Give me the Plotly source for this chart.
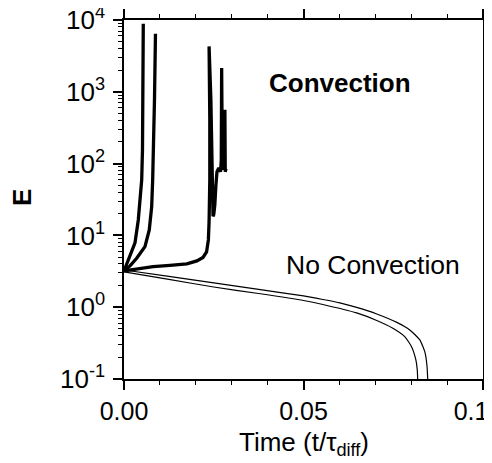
import plotly.graph_objects as go

# Convection runs (time in t/tau_diff, E)
conv1_t = [0.0, 0.00083, 0.00167, 0.00306, 0.00398, 0.00465, 0.00493, 0.00515, 0.00529, 0.00537]
conv1_E = [3.2, 4.14, 5.35, 7.87, 16.4, 34.7, 59.5, 156, 774, 8880]

conv2_t = [0.0, 0.00167, 0.00353, 0.00584, 0.00704, 0.00771, 0.00799, 0.00821, 0.00849, 0.00877]
conv2_E = [3.2, 3.76, 4.81, 6.98, 11.9, 25.2, 59.5, 156, 774, 6440]

conv3_t = [0.0, 0.00445, 0.0081, 0.0128, 0.0175, 0.0203, 0.0220, 0.0230, 0.0235, 0.0237, 0.0239,
           0.0239, 0.0239, 0.0237,
           0.0242, 0.0245, 0.0246, 0.0248, 0.0250, 0.0253, 0.0256, 0.0259, 0.0264, 0.0269, 0.0271,
           0.0272, 0.0273, 0.0274, 0.0278, 0.0281, 0.0282, 0.0284]
conv3_E = [3.2, 3.47, 3.67, 3.82, 4.01, 4.42, 4.94, 5.89, 8.66, 15.4, 31.3,
           59.5, 407, 4285,
           774, 59.5, 24, 18.5, 19.5, 26.6, 50, 77, 87, 77, 113,
           2140, 407, 103, 82, 560, 77, 85]

# No-convection runs
noconv1_t = [0.0, 0.0125, 0.0250, 0.0375, 0.0500, 0.0554, 0.0601, 0.0648, 0.0704, 0.0760, 0.0796, 0.0824, 0.0838, 0.0844, 0.0846]
noconv1_E = [3.30, 2.69, 2.18, 1.77, 1.435, 1.28, 1.15, 0.993, 0.805, 0.614, 0.482, 0.350, 0.238, 0.152, 0.1]

noconv2_t = [0.0, 0.0125, 0.0250, 0.0375, 0.0500, 0.0554, 0.0648, 0.0704, 0.0749, 0.0782, 0.0801, 0.0813, 0.0817, 0.0818]
noconv2_E = [3.10, 2.44, 1.91, 1.55, 1.24, 1.09, 0.832, 0.653, 0.509, 0.389, 0.282, 0.184, 0.133, 0.1]

x_tickvals = [0.0, 0.05, 0.1]
x_ticktext = ["0.00", "0.05", "0.1\u2007\u2009\u2009"]
y_tickvals = [0.1, 1, 10, 100, 1000, 10000]
y_ticktext = ["10<sup>-1</sup>", "10<sup>0</sup>", "10<sup>1</sup>", "10<sup>2</sup>", "10<sup>3</sup>", "10<sup>4</sup>"]
y_minor_mult = [2, 3, 4, 5, 6, 7, 8, 9]
y_minor_vals = [m * d for d in y_tickvals[:-1] for m in y_minor_mult]

FONT = "Liberation Sans, Arial, Helvetica, sans-serif"

fig = go.Figure()
for t, e in [(conv1_t, conv1_E), (conv2_t, conv2_E), (conv3_t, conv3_E)]:
    fig.add_trace(go.Scatter(x=t, y=e, mode="lines", line=dict(color="black", width=3.3),
                             showlegend=False, hoverinfo="skip"))
for t, e in [(noconv1_t, noconv1_E), (noconv2_t, noconv2_E)]:
    fig.add_trace(go.Scatter(x=t, y=e, mode="lines", line=dict(color="black", width=1.2, shape="spline", smoothing=0.5),
                             showlegend=False, hoverinfo="skip"))

axis_common = dict(showline=True, linecolor="black", linewidth=1.5, mirror="ticks",
                   ticks="outside", ticklen=9, tickwidth=1.5, tickcolor="black",
                   showgrid=False, zeroline=False, automargin=False, ticklabeloverflow="allow")

fig.update_xaxes(range=[0, 0.1], tickmode="array", tickvals=x_tickvals, ticktext=x_ticktext,
                 tickfont=dict(family=FONT, size=25, color="black"),
                 minor=dict(dtick=0.01, ticks="outside", ticklen=4, tickwidth=1.2, tickcolor="black", showgrid=False),
                 **axis_common)
fig.update_yaxes(type="log", range=[-1, 4], tickmode="array", tickvals=y_tickvals, ticktext=y_ticktext,
                 tickfont=dict(family=FONT, size=26, color="black"), ticklabelstandoff=3,
                 minor=dict(tickmode="array", tickvals=y_minor_vals, ticks="outside", ticklen=4, tickwidth=1.2,
                            tickcolor="black", showgrid=False),
                 **axis_common)

# axis titles
fig.add_annotation(xref="paper", yref="paper", x=-0.284, y=0.5046, xanchor="center", yanchor="middle",
                   text="<b>E</b>", textangle=-90,
                   showarrow=False, font=dict(family=FONT, size=26, color="black"))
fig.add_annotation(xref="paper", yref="paper", x=0.502, y=-0.18, xanchor="center", yanchor="middle",
                   text="Time (t/τ<sub>diff</sub>)",
                   showarrow=False, font=dict(family=FONT, size=26, color="black"))

fig.add_annotation(x=0.0601, y=3.126, xref="x", yref="y", text="<b>Convection</b>", showarrow=False,
                   font=dict(family=FONT, size=26, color="black"))
fig.add_annotation(x=0.0694, y=0.589, xref="x", yref="y", text="No Convection", showarrow=False,
                   font=dict(family=FONT, size=26.5, color="black"))

# page body has an 8px default margin; size the figure so it fits the 492x463 window
fig.update_layout(width=484, height=455, margin=dict(l=116, r=9, t=12, b=84),
                  plot_bgcolor="white", paper_bgcolor="white")

fig.write_html("out.html")
